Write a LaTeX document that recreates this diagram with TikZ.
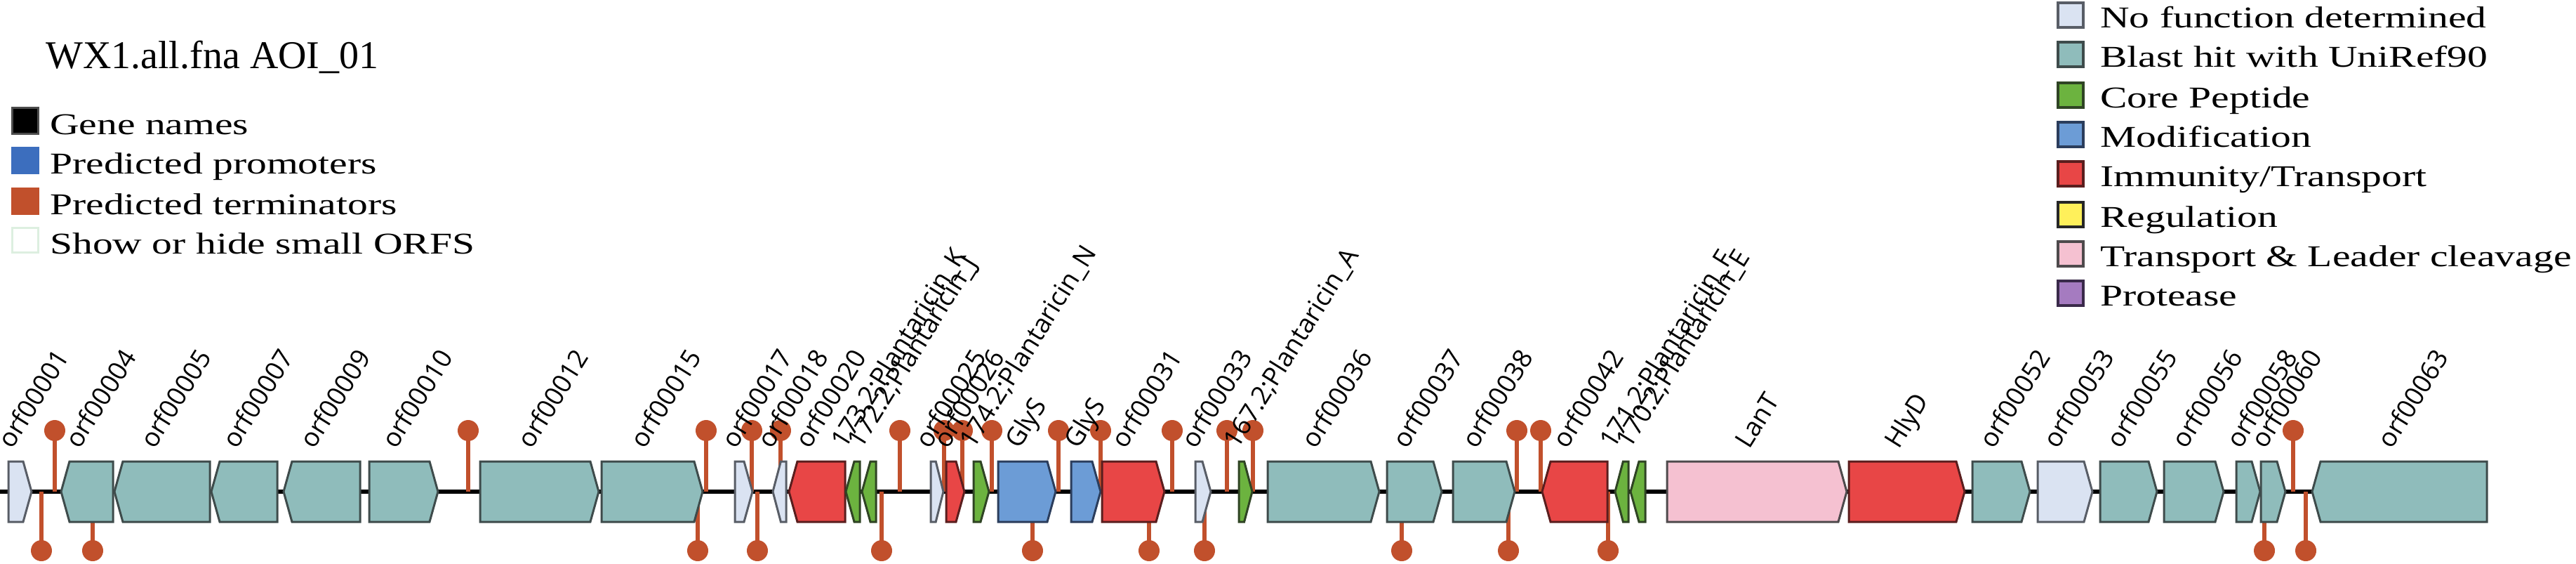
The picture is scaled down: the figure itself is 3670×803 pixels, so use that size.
\documentclass[tikz,border=0pt]{standalone}
\usepackage{fontspec}
\setmainfont{Liberation Serif}
\newfontfamily\lblfont{Open Sans}
\usepackage{graphicx}
\definecolor{cTeal}{HTML}{8FBCBB}
\definecolor{cTealD}{HTML}{3E4B4B}
\definecolor{cLight}{HTML}{DAE3F2}
\definecolor{cLightD}{HTML}{585D66}
\definecolor{cRed}{HTML}{E84646}
\definecolor{cRedD}{HTML}{5A1E1E}
\definecolor{cBlue}{HTML}{6C9CD6}
\definecolor{cBlueD}{HTML}{2B3D5C}
\definecolor{cGreen}{HTML}{6CB33F}
\definecolor{cGreenD}{HTML}{2F4424}
\definecolor{cPink}{HTML}{F5C1D1}
\definecolor{cPinkD}{HTML}{4E4A4C}
\definecolor{cYellow}{HTML}{FFF05A}
\definecolor{cPurple}{HTML}{A57BC0}
\definecolor{cPurpleD}{HTML}{3A2A4A}
\definecolor{cTerm}{HTML}{C1502C}
\definecolor{cProm}{HTML}{3C6EBE}
\definecolor{cOrf}{HTML}{DDEFE0}
\newcommand\gR[5]{%
  \pgfmathsetmacro\hh{min(12,0.6*(#3-#2))}%
  \draw[#4] (#2,657) -- ({#3-\hh},657) -- (#3,700) -- ({#3-\hh},743) -- (#2,743) -- cycle;
  \node[lbl] (#1) at ({(#2+#3)/2-11},641) {#5};}
\newcommand\gL[5]{%
  \pgfmathsetmacro\hh{min(12,0.6*(#3-#2))}%
  \draw[#4] (#2,700) -- ({#2+\hh},657) -- (#3,657) -- (#3,743) -- ({#2+\hh},743) -- cycle;
  \node[lbl] (#1) at ({(#2+#3)/2-11},641) {#5};}
\newcommand\tUp[1]{\draw[termline] (#1,700) -- (#1,613); \fill[cTerm] (#1,613) circle[radius=15pt];}
\newcommand\tDn[1]{\draw[termline] (#1,700) -- (#1,784); \fill[cTerm] (#1,784) circle[radius=15pt];}
\newcommand\legR[4]{%
  \draw[line width=4pt, fill=#2, draw=#3] (2932,#1+2) rectangle (2968,#1+37);
  \node[legtext] at (2992,#1+37) {\scalebox{1.34}[1]{#4}};}
\begin{document}
\begin{tikzpicture}[x=1pt,y=-1pt,
  gbox/.style={line width=3pt, line join=miter},
  gTeal/.style={gbox, fill=cTeal, draw=cTealD},
  gLight/.style={gbox, fill=cLight, draw=cLightD},
  gRed/.style={gbox, fill=cRed, draw=cRedD},
  gBlue/.style={gbox, fill=cBlue, draw=cBlueD},
  gGreen/.style={gbox, fill=cGreen, draw=cGreenD},
  gPink/.style={gbox, fill=cPink, draw=cPinkD},
  lbl/.style={font=\lblfont\fontsize{37}{40}\selectfont, rotate=58, anchor=base west, inner sep=0pt},
  termline/.style={draw=cTerm, line width=6pt},
  legtext/.style={font=\fontsize{43}{46}\selectfont, anchor=base west, inner sep=0pt}]
\useasboundingbox (0,0) rectangle (3670,803);
% title
\node[anchor=base west, inner sep=0pt, font=\fontsize{56}{60}\selectfont] (title) at (65,97) {WX1.all.fna AOI\_01};
% left legend
\draw[line width=3pt, fill=black, draw=black!70] (17.5,153.5) rectangle (54.5,190.5);
\node[legtext] (lg1) at (71,191) {\scalebox{1.34}[1]{Gene names}};
\fill[cProm] (16,209) rectangle (56,248);
\node[legtext] (lg2) at (71,247) {\scalebox{1.34}[1]{Predicted promoters}};
\fill[cTerm] (16,267) rectangle (56,306);
\node[legtext] (lg3) at (71,305) {\scalebox{1.34}[1]{Predicted terminators}};
\draw[line width=3pt, fill=white, draw=cOrf] (17.5,324.5) rectangle (54.5,359.5);
\node[legtext] (lg4) at (71,361) {\scalebox{1.34}[1]{Show or hide small ORFS}};
% right legend
\legR{2}{cLight}{cLightD}{No function determined}
\legR{58}{cTeal}{cTealD}{Blast hit with UniRef90}
\legR{116}{cGreen}{cGreenD}{Core Peptide}
\legR{172}{cBlue}{cBlueD}{Modification}
\legR{228}{cRed}{cRedD}{Immunity/Transport}
\legR{286}{cYellow}{black!85}{Regulation}
\legR{342}{cPink}{cPinkD}{Transport \& Leader cleavage}
\legR{398}{cPurple}{cPurpleD}{Protease}
% backbone
\draw[line width=6pt] (0,700) -- (3543,700);
% terminators
\foreach \x in {78,667,1006,1071,1112,1282,1345,1371,1413,1508,1568,1670,1748,1785,2161,2195,3267} {\tUp{\x}}
\foreach \x in {59,132,994,1079,1256,1471,1637,1716,1997,2149,2291,3226,3285} {\tDn{\x}}
% genes
\gR{g1}{12}{45}{gLight}{orf00001}
\gL{g2}{87}{161}{gTeal}{orf00004}
\gL{g3}{163}{299}{gTeal}{orf00005}
\gL{g4}{301}{395}{gTeal}{orf00007}
\gL{g5}{404}{513}{gTeal}{orf00009}
\gR{g6}{526}{624}{gTeal}{orf00010}
\gR{g7}{684}{853}{gTeal}{orf00012}
\gR{g8}{857}{1001}{gTeal}{orf00015}
\gR{g9}{1047}{1072}{gLight}{orf00017}
\gL{g10}{1101}{1120}{gLight}{orf00018}
\gL{g11}{1124}{1204}{gRed}{orf00020}
\gL{g12}{1205}{1225}{gGreen}{173.2;Plantaricin\_K}
\gL{g13}{1228}{1248}{gGreen}{172.2;Plantaricin\_J}
\gR{g14}{1326}{1344}{gLight}{orf00025}
\gR{g15}{1348}{1374}{gRed}{orf00026}
\gR{g16}{1387}{1409}{gGreen}{174.2;Plantaricin\_N}
\gR{g17}{1422}{1504}{gBlue}{GlyS}
\gR{g18}{1526}{1568}{gBlue}{GlyS}
\gR{g19}{1570}{1659}{gRed}{orf00031}
\gR{g20}{1703}{1725}{gLight}{orf00033}
\gR{g21}{1765}{1784}{gGreen}{167.2;Plantaricin\_A}
\gR{g22}{1806}{1965}{gTeal}{orf00036}
\gR{g23}{1976}{2054}{gTeal}{orf00037}
\gR{g24}{2070}{2158}{gTeal}{orf00038}
\gL{g25}{2197}{2290}{gRed}{orf00042}
\gL{g26}{2301}{2320}{gGreen}{171.2;Plantaricin\_F}
\gL{g27}{2323}{2344}{gGreen}{170.2;Plantaricin\_E}
\gR{g28}{2375}{2631}{gPink}{LanT}
\gR{g29}{2634}{2799}{gRed}{HlyD}
\gR{g30}{2810}{2892}{gTeal}{orf00052}
\gR{g31}{2903}{2981}{gLight}{orf00053}
\gR{g32}{2992}{3073}{gTeal}{orf00055}
\gR{g33}{3083}{3168}{gTeal}{orf00056}
\gR{g34}{3186}{3220}{gTeal}{orf00058}
\gR{g35}{3221}{3256}{gTeal}{orf00060}
\gL{g36}{3294}{3543}{gTeal}{orf00063}
\end{tikzpicture}
\end{document}
